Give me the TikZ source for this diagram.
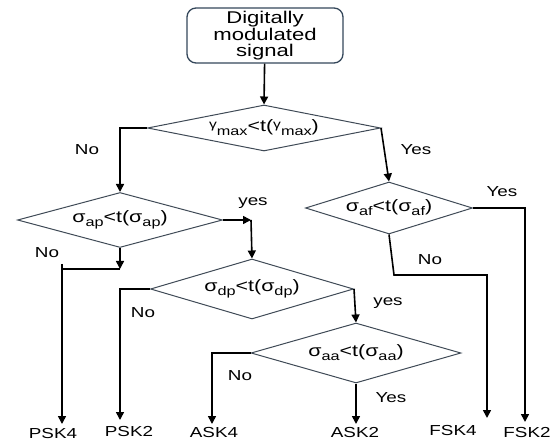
\documentclass[tikz,border=0pt]{standalone}
\usepackage{fontspec}
\setmainfont{Liberation Sans}[FakeStretch=1.3]
\usetikzlibrary{arrows.meta,shapes.geometric,calc}

\definecolor{boxblue}{HTML}{34475A}
\definecolor{edgegray}{HTML}{3F4A56}

\newcommand{\lowsub}[1]{\raisebox{-4pt}{\fontsize{12.5}{13}\selectfont #1}}
\newcommand{\highgam}{\raisebox{3pt}{\fontsize{12}{12}\selectfont γ}}

\begin{document}
\begin{tikzpicture}[
  x=1pt, y=-1pt,
  startbox/.style={draw=boxblue, rounded corners=9pt, line width=1.3pt,
                   minimum width=156pt, minimum height=55pt, inner sep=0pt,
                   align=center, font=\fontsize{17}{15.5}\selectfont},
  test/.style={diamond, draw=edgegray, line width=1pt,
               inner xsep=-45pt, inner ysep=-10pt,
               font=\fontsize{16.5}{18}\selectfont},
  arrow/.style={-{Triangle[length=8pt,width=8pt]}, line width=1.6pt},
  link/.style={line width=1.4pt},
  answer/.style={font=\fontsize{14.5}{16}\selectfont},
  result/.style={font=\fontsize{14.5}{16}\selectfont}
]
\useasboundingbox (0,0) rectangle (556,443);

% Start
\node[startbox] (signal) at (265,35.5) {Digitally\\modulated\\signal};

% Decisions
\node[test, minimum width=233pt, minimum height=46pt] (gam) at (264,128)
  {\highgam\lowsub{max}<t(\highgam\lowsub{max})};
\node[test, minimum width=205pt, minimum height=55pt] (ap) at (120,220)
  {σ\lowsub{ap}<t(σ\lowsub{ap})};
\node[test, minimum width=167pt, minimum height=52pt] (af) at (389,208)
  {σ\lowsub{af}<t(σ\lowsub{af})};
\node[test, minimum width=203pt, minimum height=60pt] (dp) at (252,289)
  {σ\lowsub{dp}<t(σ\lowsub{dp})};
\node[test, minimum width=210pt, minimum height=60pt] (aa) at (356,353)
  {σ\lowsub{aa}<t(σ\lowsub{aa})};

% Results
\node[result] (psk4) at (53,434) {PSK4};
\node[result] (psk2) at (129,432) {PSK2};
\node[result] (ask4) at (214,433) {ASK4};
\node[result] (ask2) at (355,433) {ASK2};
\node[result] (fsk4) at (453,431) {FSK4};
\node[result] (fsk2) at (527,433) {FSK2};

% Arrow ends
\coordinate (apjoin) at (120,269);
\coordinate (apturn) at (62,264);
\coordinate (apyes) at (251,220);
\coordinate (afturn) at (394,275);
\coordinate (psk4tip) at (62,424);
\coordinate (psk2tip) at (120,420);
\coordinate (ask4tip) at (212,424);
\coordinate (ask2tip) at (356,424);
\coordinate (fsk4tip) at (487,418);
\coordinate (fsk2tip) at (525,422);

% Connectors
\draw[arrow] (signal) -- (gam.north);
\draw[arrow] (gam.west) -| (ap.north);
\draw[arrow] (gam.east) -- (af.north);

\draw[arrow] (ap.south) -- (apjoin);
\draw[link] (apjoin) -- (apjoin -| apturn);
\draw[arrow] (apturn) -- (psk4tip);
\draw[arrow] (ap.east) -- (apyes);
\draw[arrow] (apyes) -- (dp.north);

\draw[arrow] (dp.west) -| (psk2tip);
\draw[arrow] (dp.east) -- (aa.north);

\draw[arrow] (aa.west) -| (ask4tip);
\draw[arrow] (aa.south) -- (ask2tip);

\draw[arrow] (af.east) -| (fsk2tip);
\draw[arrow] (af.south) -- (afturn) -| (fsk4tip);

% Branch labels
\node[answer] (gamno) at (87,150) {No};
\node[answer] (gamyes) at (416,150) {Yes};
\node[answer] (apno) at (47,253) {No};
\node[answer] (apyeslbl) at (253,203) {yes};
\node[answer] (afyes) at (502,192) {Yes};
\node[answer] (afno) at (430,260) {No};
\node[answer] (dpno) at (143,313) {No};
\node[answer] (dpyes) at (388,303) {yes};
\node[answer] (aano) at (240,376) {No};
\node[answer] (aayes) at (391,398) {Yes};

\end{tikzpicture}
\end{document}
